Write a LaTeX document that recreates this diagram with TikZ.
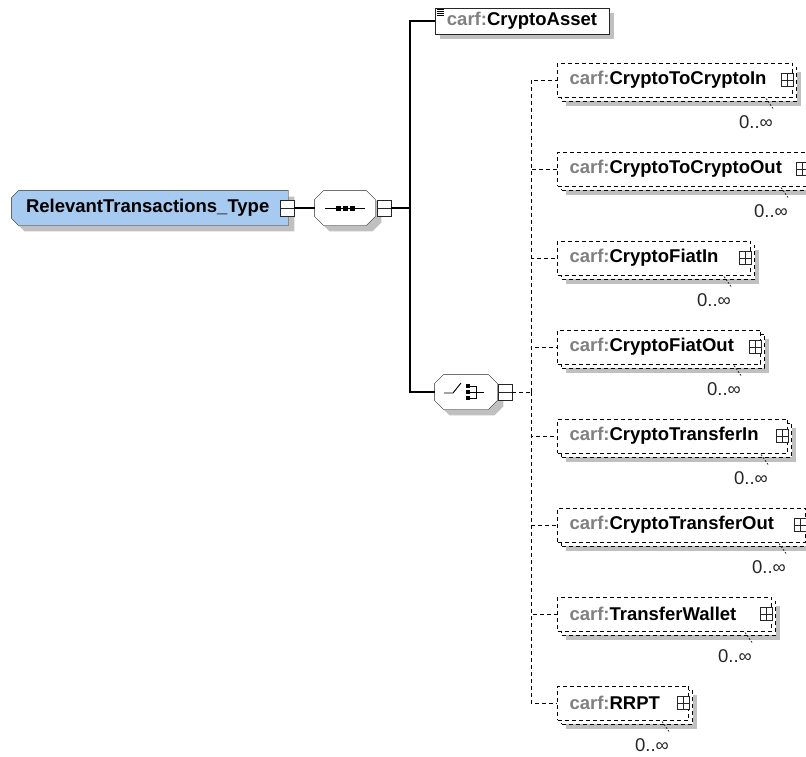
\documentclass[tikz,border=0pt]{standalone}
\usepackage{fontspec}
\setmainfont{Liberation Sans}
\usepackage{tikz}
\usetikzlibrary{calc}
\usetikzlibrary{shadows, backgrounds, positioning}
\tikzset{font=\fontsize{18.5}{22}\selectfont\bfseries}
\definecolor{xsdblue}{RGB}{166,202,240}
\definecolor{shade1}{RGB}{192,192,192}
\definecolor{prefix1}{RGB}{128,128,128}
\newcommand{\carfname}[1]{{\color{prefix1}carf:}#1}
% outline of a node with cut corners: node, left cut, right cut
\newcommand{\octpath}[3]{($(#1.north west)+(#2,0)$) -- ($(#1.north east)+(-#3,0)$)
  -- ($(#1.north east)+(0,#3)$) -- ($(#1.south east)+(0,-#3)$)
  -- ($(#1.south east)+(-#3,0)$) -- ($(#1.south west)+(#2,0)$)
  -- ($(#1.south west)+(0,-#2)$) -- ($(#1.north west)+(0,#2)$) -- cycle}

\begin{document}
\begin{tikzpicture}[x=1pt,y=-1pt,line width=0.9pt,inner sep=0pt]
  \tikzstyle{shade}=[general shadow={fill=shade1,shadow xshift=6pt,shadow yshift=-6pt}]
  \tikzstyle{ctype}=[rectangle,minimum height=34,inner xsep=14pt,text width=248pt,align=left]
  \tikzstyle{model}=[rectangle,minimum height=34]
  \tikzstyle{elem}=[rectangle,draw=black!85,fill=white,
                    general shadow={fill=shade1,shadow xshift=5pt,shadow yshift=-5pt},
                    minimum width=174,minimum height=26]
  \tikzstyle{minusbox}=[draw=black!85,solid,fill=white,minimum width=14,minimum height=16,
                        path picture={\draw[line width=0.8pt] (path picture bounding box.west)
                                      -- (path picture bounding box.east);}]
  \tikzstyle{plusbox}=[draw=black!85,solid,fill=white,minimum width=12,minimum height=13,
                       path picture={\draw[line width=0.8pt] (path picture bounding box.west)
                                     -- (path picture bounding box.east)
                                     (path picture bounding box.north)
                                     -- (path picture bounding box.south);}]
  \tikzstyle{card}=[font=\fontsize{18.5}{22}\selectfont,text=black!85]
  \tikzstyle{dots}=[draw=black,line width=1pt,dash pattern=on 4pt off 3pt]
  \tikzstyle{tick}=[draw=black!85,line width=0.8pt,dash pattern=on 2pt off 1.5pt]
  \tikzstyle{many}=[general shadow={fill=shade1,shadow xshift=8pt,shadow yshift=-9pt},
                    general shadow={fill=white,dots,shadow xshift=4pt,shadow yshift=-4pt},
                    dots,fill=white,anchor=west,minimum height=34,inner xsep=12pt,align=left,
                    label={[plusbox,anchor=center,xshift=-6pt]east:},
                    label={[card,anchor=center,xshift=-37pt,yshift=-25pt]south east:0..∞}]

  \useasboundingbox (0, 0) rectangle (806, 756);

  \node[ctype]    (root)    at (150, 208)   {RelevantTransactions\_Type};
  \node[minusbox] (rootm)   at (287, 208)   {};
  \node[model, minimum width=60] (seq)    at (345, 208)   {};
  \node[minusbox] (seqm)    at (384, 208)   {};
  \node[elem]     (asset)   at (522, 21)    {\carfname{CryptoAsset}};
  \node[model, minimum width=62] (choice) at (466, 392)   {};
  \node[minusbox] (choicem) at (505, 392)   {};
  \coordinate     (trunk)   at (410, 208);
  \coordinate     (dtrunk)  at (531, 392);

  \node[many, text width=211pt] (ctcin)  at (557, 80)   {\carfname{CryptoToCryptoIn}};
  \node[many, text width=226pt] (ctcout) at (557, 169)  {\carfname{CryptoToCryptoOut}};
  \node[many, text width=169pt] (cfin)   at (557, 258)  {\carfname{CryptoFiatIn}};
  \node[many, text width=179pt] (cfout)  at (557, 347)  {\carfname{CryptoFiatOut}};
  \node[many, text width=206pt] (ctrin)  at (557, 436)  {\carfname{CryptoTransferIn}};
  \node[many, text width=224pt] (ctrout) at (557, 525)  {\carfname{CryptoTransferOut}};
  \node[many, text width=190pt] (twal)   at (557, 614)  {\carfname{TransferWallet}};
  \node[many, text width=107pt] (rrpt)   at (557, 703)  {\carfname{RRPT}};

  \begin{scope}[on background layer]
    \draw[draw=black!85, fill=xsdblue, shade] \octpath{root}{7}{0};
    \draw[draw=black!85, fill=white, shade] \octpath{seq}{9}{9};
    \draw[draw=black!85, fill=white, shade] \octpath{choice}{9}{9};
  \end{scope}

  % sequence and choice symbols
  \draw ($(seq)+(-20,0)$) -- ($(seq)+(20,0)$);
  \foreach \d in {-7,0,7}
    \fill ($(seq)+(\d,0)$) +(-2.5,-2.5) rectangle +(2.5,2.5);
  \draw ($(choice)+(-22,1)$) -- ++(9,0) -- ++(8,-10);
  \foreach \d in {-6,0,6}
    \fill ($(choice)+(2,\d)$) +(-2.2,-2.2) rectangle +(2.2,2.2);
  \draw ($(choice)+(4,-6)$) -- ++(6,0) -- ++(0,12) -- ++(-6,0)
        ($(choice)+(4,0)$) -- ++(14,0);
  \foreach \k in {2,4,6,8}
    \draw[line width=0.5pt] ($(asset.north west)+(2,\k)$) -- ++(7,0);

  \draw[line width=1.1pt] (rootm) -- (seq)
        (seqm) -- (trunk) |- (asset)
        (trunk) |- (choice);
  \draw[dots] (choicem) -- (dtrunk)
        (dtrunk) |- (ctcin.west)  (dtrunk) |- (ctcout.west)
        (dtrunk) |- (cfin.west)   (dtrunk) |- (cfout.west)
        (dtrunk) |- (ctrin.west)  (dtrunk) |- (ctrout.west)
        (dtrunk) |- (twal.west)   (dtrunk) |- (rrpt.west);
  \foreach \n in {ctcin,ctcout,cfin,cfout,ctrin,ctrout,twal,rrpt}
    \draw[tick] ($(\n.south east)+(-27,1)$) -- ++(7,10);
\end{tikzpicture}
\end{document}
